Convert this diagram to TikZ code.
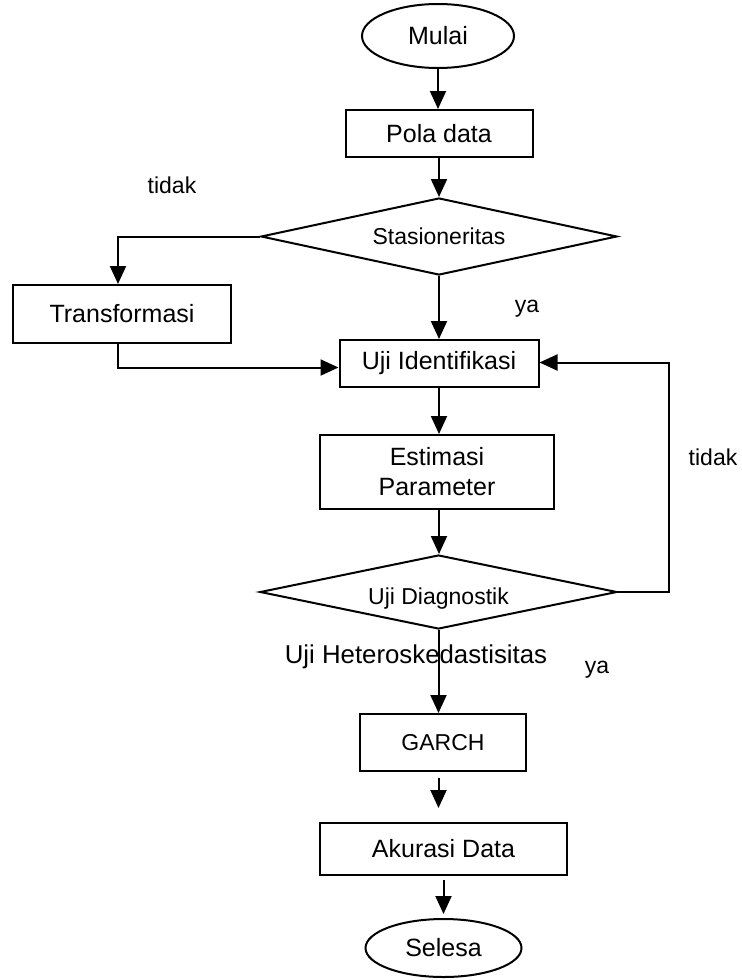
\documentclass[tikz,border=0pt]{standalone}
\usepackage{fontspec}
\setmainfont{Liberation Sans}
\usetikzlibrary{arrows.meta, shapes.geometric}
\tikzset{every node/.append style={font=\fontsize{12.5}{15}\selectfont}}
\tikzset{box/.style={draw, rectangle, line width=1pt, inner sep=0pt, align=center}}
\tikzset{terminal/.style={draw, ellipse, line width=1pt, inner sep=0pt}}
\tikzset{decision/.style={draw, diamond, aspect=4.6, line width=1pt, inner sep=0pt}}
\tikzset{conn/.style={line width=1pt}}
\tikzset{arr/.style={conn, -{Triangle[length=9pt, width=8pt]}}}
\tikzset{smalltext/.style={font=\fontsize{11.5}{14}\selectfont}}

\begin{document}
\begin{tikzpicture}[x=0.5pt, y=-0.5pt]
\useasboundingbox (0,0) rectangle (742,980);
\node [terminal, minimum width=76pt, minimum height=32pt] (mulai) at (438,36) {Mulai};
\node [box, minimum width=93.5pt, minimum height=23.5pt] (pola) at (439,133.5) {Pola data};
\node [decision, smalltext, minimum width=178pt, minimum height=38.5pt] (stas) at (439,236.5) {Stasioneritas};
\node [box, minimum width=109pt, minimum height=29pt] (trans) at (122,314) {Transformasi};
\node [box, minimum width=99.5pt, minimum height=23.5pt] (uji) at (439,363.5) {Uji Identifikasi};
\node [box, minimum width=117pt, minimum height=37pt] (estim) at (437,472) {Estimasi\\Parameter};
\node [decision, smalltext, minimum width=178.5pt, minimum height=37pt] (diag) at (438.5,592) {\raisebox{-3.5pt}[\height][\depth]{Uji Diagnostik}};
\node [box, smalltext, minimum width=83pt, minimum height=28.5pt] (garch) at (443,742.5) {GARCH};
\node [box, minimum width=123.5pt, minimum height=26pt] (akurasi) at (443.5,849) {Akurasi Data};
\node [terminal, minimum width=78pt, minimum height=29pt] (selesa) at (443.5,948) {Selesa};
\node [smalltext] (tidakA) at (172,185) {tidak};
\node [smalltext] (yaA) at (527,309) {ya};
\node [smalltext] (tidakB) at (713,457) {tidak};
\node [font=\fontsize{12.9}{15}\selectfont] (hetero) at (416,657) {Uji Heteroskedastisitas};
\node [smalltext] (yaB) at (597,670) {ya};
\draw [arr] (mulai.south) -- (mulai.south |- pola.north);
\draw [arr] (pola) -- (stas);
\draw [arr] (stas.west) -| ([xshift=-2pt]trans.north);
\draw [arr] (stas) -- (uji);
\draw [arr] ([xshift=-2pt]trans.south) |- ([yshift=-2pt]uji.west);
\draw [arr] (uji.south) -- (uji.south |- estim.north);
\draw [arr] (uji.south |- estim.south) -- (uji.south |- diag.north);
\draw [arr] (diag.east) -- ++(51,0) |- ([yshift=0.5pt]uji.east);
\draw [arr] (diag.south) -- (diag.south |- garch.north);
\draw [arr, shorten <=3pt, shorten >=7pt] (diag.south |- garch.south) -- (diag.south |- akurasi.north);
\draw [arr, shorten <=2pt, shorten >=2pt] (akurasi) -- (selesa);
\end{tikzpicture}
\end{document}
